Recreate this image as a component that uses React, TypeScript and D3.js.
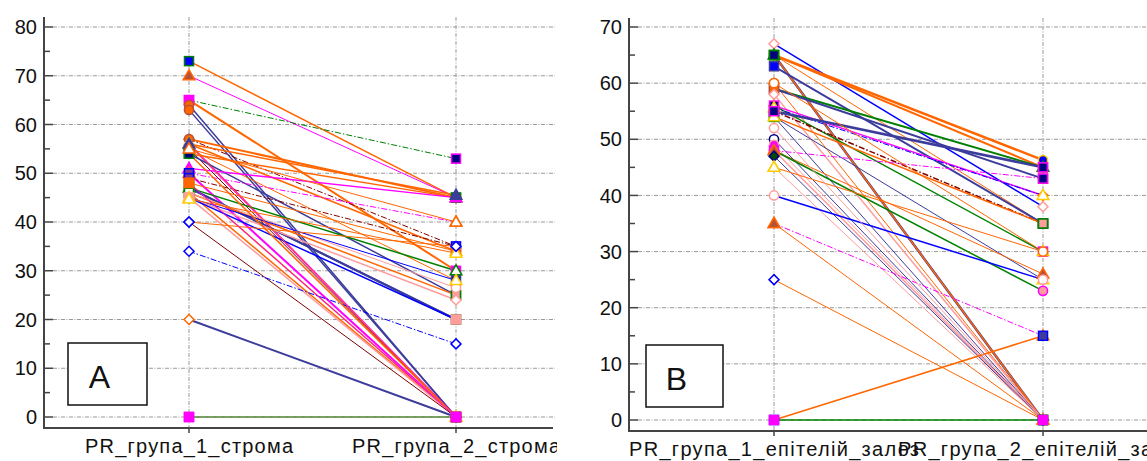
import React from 'react';
import * as d3 from 'd3';

// ---------- data ----------
const categoriesA = ['PR_група_1_строма', 'PR_група_2_строма'];
const categoriesB = ['PR_група_1_епітелій_залоз', 'PR_група_2_епітелій_залоз'];
const ticksA = [0, 10, 20, 30, 40, 50, 60, 70, 80];
const ticksB = [0, 10, 20, 30, 40, 50, 60, 70];

// panel A: value in group 1 and group 2 for each case
const group1A = [73, 70, 65, 65, 64, 63, 57, 57, 56, 56, 55, 55, 54, 54, 51, 50, 50, 49, 48, 48, 47, 47, 47, 46, 46, 46, 45, 45, 45, 45, 44.7, 40, 40, 34, 20, 56, 54, 48, 56, 55, 0, 0];
const group2A = [45, 45, 53, 30, 0, 0, 45, 35, 34, 0, 0, 28, 45, 25, 45, 40, 0, 35, 34, 0, 30, 20, 20, 25, 26.5, 0, 28, 24, 0, 20, 33.6, 35, 0, 15, 0, 0, 0, 0, 45.5, 40, 0, 0];

// panel B
const group1B = [67, 65, 65, 65, 65, 65, 63, 60, 59, 59, 58, 56, 56, 55.6, 55, 54, 54, 54, 55, 48, 50, 49, 48, 48, 48, 47, 45, 45, 40, 35, 35, 25, 0, 52, 60, 0];
const group2B = [38, 46.3, 45, 0, 0, 35, 35, 0, 45, 43, 0, 40, 30, 40, 35, 35, 0, 25, 45, 26, 0, 0, 43, 23, 0, 0, 30, 0, 25, 15, 0, 0, 15, 0, 30, 0];

// ---------- styles (separate from data) ----------
const C: Record<string, string> = {
  O: '#FF6600', M: '#FF00FF', N: '#3C3C9C', B: '#0000FF', R: '#800000',
  P: '#FF9C9C', G: '#008000', Y: '#FFCC00', K: '#000080', S: '#B5503A',
  W: '#FFFFFF', U: '#7E3A93', D: '#004D00',
};
// [lineColor, lineWidth, dashed, shape, fill, stroke]
type St = [string, number, number, string, string, string];
const styleA: St[] = [
  ['O', 1.5, 0, 'sq', 'B', 'G'], ['M', 1, 0, 'tri', 'S', 'O'], ['G', 1, 1, 'sq', 'K', 'M'], ['O', 2, 0, 'sq', 'M', 'M'],
  ['N', 1.5, 0, 'ci', 'O', 'S'], ['N', 1.5, 0, 'ci', 'O', 'S'], ['O', 2, 0, 'di', 'O', 'S'], ['R', 1, 1, 'ci', 'O', 'S'],
  ['O', 1.5, 0, 'tri', 'W', 'Y'], ['M', 2, 0, 'tri', 'W', 'Y'], ['R', 1, 0, 'di', 'O', 'S'], ['O', 1, 0, 'sq', 'K', 'N'],
  ['O', 1.5, 0, 'sq', 'K', 'G'], ['N', 1.5, 0, 'sq', 'K', 'G'], ['M', 1.5, 0, 'tri', 'M', 'M'], ['M', 1, 1, 'tri', 'W', 'O'],
  ['M', 2, 0, 'sq', 'U', 'B'], ['R', 1, 1, 'sq', 'U', 'B'], ['O', 1, 0, 'sq', 'O', 'O'], ['O', 1.5, 0, 'sq', 'O', 'O'],
  ['G', 1.5, 0, 'tri', 'W', 'G'], ['N', 2, 0, 'sq', 'W', 'P'], ['N', 2, 0, 'sq', 'W', 'G'], ['O', 1.5, 0, 'sq', 'P', 'G'],
  ['P', 1, 0, 'ci', 'W', 'P'], ['O', 1.5, 0, 'sq', 'W', 'G'], ['B', 1, 0, 'tri', 'W', 'Y'], ['P', 1.5, 0, 'di', 'W', 'P'],
  ['P', 1.5, 0, 'sq', 'P', 'P'], ['B', 1.5, 0, 'sq', 'P', 'P'], ['O', 1, 0, 'tri', 'W', 'Y'], ['O', 1, 0, 'di', 'W', 'B'],
  ['R', 1, 0, 'di', 'W', 'B'], ['B', 1, 1, 'di', 'W', 'B'], ['N', 2, 0, 'di', 'W', 'O'], ['O', 1, 0, 'tri', 'W', 'Y'],
  ['O', 1.5, 0, 'sq', 'K', 'G'], ['M', 1, 0, 'sq', 'O', 'O'], ['O', 1.5, 0, 'tri', 'N', 'N'], ['O', 1, 0, 'tri', 'W', 'O'],
  ['P', 1, 0, 'sq', 'M', 'M'], ['G', 1, 0, 'sq', 'M', 'M'],
];
const styleB: St[] = [
  ['B', 1.5, 0, 'di', 'W', 'P'], ['O', 2.5, 0, 'ci', 'B', 'Y'], ['O', 2, 0, 'tri', 'W', 'G'], ['N', 2.5, 0, 'sq', 'K', 'G'],
  ['O', 1.5, 0, 'sq', 'K', 'G'], ['O', 1, 0, 'sq', 'K', 'G'], ['N', 2, 0, 'sq', 'B', 'N'], ['O', 1, 0, 'ci', 'W', 'O'],
  ['G', 2, 0, 'sq', 'O', 'S'], ['N', 2, 0, 'sq', 'O', 'S'], ['P', 1.5, 0, 'di', 'W', 'P'], ['M', 1.5, 0, 'di', 'K', 'O'],
  ['G', 1.5, 0, 'sq', 'K', 'M'], ['B', 1, 1, 'tri', 'W', 'Y'], ['R', 1.5, 1, 'sq', 'P', 'G'], ['O', 1.5, 0, 'sq', 'P', 'G'],
  ['N', 1, 0, 'sq', 'P', 'G'], ['N', 1, 0, 'tri', 'W', 'Y'], ['N', 2.5, 0, 'sq', 'K', 'M'], ['O', 1, 0, 'tri', 'S', 'O'],
  ['N', 1, 0, 'ci', 'W', 'K'], ['P', 1, 0, 'ci', 'M', 'P'], ['M', 1, 1, 'sq', 'K', 'M'], ['G', 1.5, 0, 'ci', 'P', 'M'],
  ['P', 1.5, 0, 'tri', 'S', 'O'], ['N', 1, 0, 'di', 'D', 'K'], ['O', 1, 0, 'tri', 'W', 'Y'], ['P', 1, 0, 'tri', 'W', 'Y'],
  ['B', 1.5, 0, 'ci', 'W', 'P'], ['M', 1, 1, 'tri', 'S', 'O'], ['O', 1, 0, 'tri', 'S', 'O'], ['O', 1, 0, 'di', 'W', 'B'],
  ['O', 1.5, 0, 'sq', 'N', 'B'], ['P', 1, 0, 'ci', 'W', 'P'], ['O', 1, 0, 'ci', 'W', 'O'], ['G', 1.5, 0, 'sq', 'M', 'M'],
];

const FONT = '"Liberation Sans", Arial, sans-serif';

function Marker({ shape, x, y, fill, stroke }: any) {
  const f = C[fill], s = C[stroke];
  if (shape === 'sq') return <rect x={x - 4.5} y={y - 4.5} width={9} height={9} fill={f} stroke={s} strokeWidth={1.5} />;
  if (shape === 'ci') return <circle cx={x} cy={y} r={4.6} fill={f} stroke={s} strokeWidth={1.5} />;
  if (shape === 'tri') return <polygon points={`${x},${y - 6} ${x + 5.8},${y + 4} ${x - 5.8},${y + 4}`} fill={f} stroke={s} strokeWidth={1.5} />;
  return <polygon points={`${x},${y - 5} ${x + 5},${y} ${x},${y + 5} ${x - 5},${y}`} fill={f} stroke={s} strokeWidth={1.5} />;
}

interface PanelProps {
  id: string; cats: string[]; ticks: number[]; g1: number[]; g2: number[]; styles: St[];
  axisX: number; right: number; clipRight: number; top: number; bottom: number;
  y0: number; yMaxPx: number; catX: [number, number]; labelW: number;
  letter: string; box: [number, number, number, number];
}

function Panel(p: PanelProps) {
  const y = d3.scaleLinear().domain([0, p.ticks[p.ticks.length - 1]]).range([p.y0, p.yMaxPx]);
  const x = d3.scalePoint<string>().domain(p.cats).range(p.catX);
  const minor = d3.range(5, p.ticks[p.ticks.length - 1], 10);
  const [bx, by, bw, bh] = p.box;
  return (
    <g clipPath={`url(#clip${p.id})`}>
      <defs>
        <clipPath id={`clip${p.id}`}><rect x={0} y={0} width={p.clipRight} height={461} /></clipPath>
      </defs>
      {p.ticks.map(t => (
        <line key={'h' + t} x1={p.axisX + 9} x2={p.right} y1={y(t)} y2={y(t)} stroke="#999" strokeWidth={1} strokeDasharray="4 1.5 1 1.5" />
      ))}
      {p.cats.map(c => (
        <line key={'v' + c} x1={x(c)} x2={x(c)} y1={p.top} y2={p.bottom} stroke="#999" strokeWidth={1} strokeDasharray="4 1.5 1 1.5" />
      ))}
      {p.g1.map((v, i) => {
        const st = p.styles[i];
        return (
          <line key={'l' + i} x1={x(p.cats[0])} y1={y(v)} x2={x(p.cats[1])} y2={y(p.g2[i])}
            stroke={C[st[0]]} strokeWidth={st[1]} strokeDasharray={st[2] ? '6 2 1.5 2' : undefined} />
        );
      })}
      {p.g1.map((v, i) => {
        const st = p.styles[i];
        return (
          <g key={'m' + i}>
            <Marker shape={st[3]} x={x(p.cats[0])} y={y(v)} fill={st[4]} stroke={st[5]} />
            <Marker shape={st[3]} x={x(p.cats[1])} y={y(p.g2[i])} fill={st[4]} stroke={st[5]} />
          </g>
        );
      })}
      {/* axes */}
      <line x1={p.axisX} x2={p.axisX} y1={p.top} y2={p.bottom + 1} stroke="#444" strokeWidth={2} />
      <line x1={p.axisX} x2={p.right - 2} y1={p.bottom} y2={p.bottom} stroke="#444" strokeWidth={2} />
      {p.ticks.map(t => (
        <g key={'t' + t}>
          <line x1={p.axisX} x2={p.axisX + 9} y1={y(t)} y2={y(t)} stroke="#444" strokeWidth={1.5} />
          <text x={p.axisX - 7} y={y(t)} dy="0.36em" textAnchor="end" fontFamily={FONT} fontSize={20} fill="#111">{t}</text>
        </g>
      ))}
      {minor.map(t => (
        <line key={'mt' + t} x1={p.axisX} x2={p.axisX + 6} y1={y(t)} y2={y(t)} stroke="#444" strokeWidth={1.5} />
      ))}
      {p.cats.map(c => (
        <g key={'xc' + c}>
          <line x1={x(c)} x2={x(c)} y1={p.bottom} y2={p.bottom + 5} stroke="#444" strokeWidth={1.5} />
          <text x={x(c)} y={p.bottom + 25} textAnchor="middle" fontFamily={FONT} fontSize={20} fill="#111"
            textLength={p.labelW} lengthAdjust="spacing">{c}</text>
        </g>
      ))}
      <rect x={bx} y={by} width={bw} height={bh} fill="#fff" stroke="#111" strokeWidth={1.5} />
      <text x={bx + bw / 2 - 8} y={by + bh - 17} textAnchor="middle" fontFamily={FONT} fontSize={32} fill="#111">{p.letter}</text>
    </g>
  );
}

export default function App() {
  return (
    <div style={{ position: 'fixed', left: 0, top: 0, width: 1147, height: 461, background: '#fff' }}>
      <svg width={1147} height={461} style={{ display: 'block' }}>
        <rect width={1147} height={461} fill="#fff" />
        <Panel id="A" cats={categoriesA} ticks={ticksA} g1={group1A} g2={group2A} styles={styleA}
          axisX={44} right={555} clipRight={557} top={17} bottom={428} y0={417} yMaxPx={27}
          catX={[189, 456]} labelW={208} letter="A" box={[68, 343, 79, 62]} />
        <Panel id="B" cats={categoriesB} ticks={ticksB} g1={group1B} g2={group2B} styles={styleB}
          axisX={629} right={1149} clipRight={1147} top={18} bottom={431} y0={420} yMaxPx={27}
          catX={[774, 1043]} labelW={290} letter="B" box={[646, 345, 77, 62]} />
      </svg>
    </div>
  );
}
